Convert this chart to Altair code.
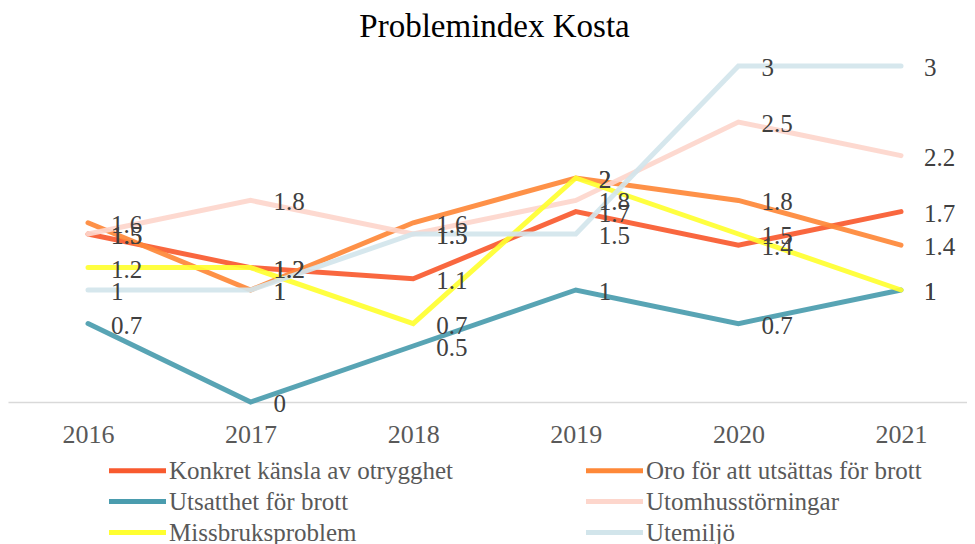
import altair as alt
import pandas as pd

years = ["2016", "2017", "2018", "2019", "2020", "2021"]
series = [
    "Konkret känsla av otrygghet",
    "Oro för att utsättas för brott",
    "Utsatthet för brott",
    "Utomhusstörningar",
    "Missbruksproblem",
    "Utemiljö",
]
konkret = [1.5, 1.2, 1.1, 1.7, 1.4, 1.7]
oro = [1.6, 1.0, 1.6, 2.0, 1.8, 1.4]
utsatthet = [0.7, 0.0, 0.5, 1.0, 0.7, 1.0]
utomhus = [1.5, 1.8, 1.5, 1.8, 2.5, 2.2]
missbruk = [1.2, 1.2, 0.7, 2.0, 1.5, 1.0]
utemiljo = [1.0, 1.0, 1.5, 1.5, 3.0, 3.0]
colors = ["#F85A2F", "#FE8838", "#4A9CAE", "#FDD6CC", "#FFFF30", "#D2E5EB"]

rows = []
for i, (name, vals) in enumerate(zip(series, [konkret, oro, utsatthet, utomhus, missbruk, utemiljo])):
    for y, v in zip(years, vals):
        rows.append({"year": y, "series": name, "value": v, "order": i})
df = pd.DataFrame(rows)

FONT = "Liberation Serif"

x = alt.X("year:N", title=None,
          scale=alt.Scale(type="point", padding=0.449, align=0.548),
          axis=alt.Axis(labelAngle=0, ticks=False, domainColor="#D9D9D9", domainWidth=1.5,
                        labelFont=FONT, labelFontSize=26, labelColor="#595959", labelPadding=19))
y = alt.Y("value:Q", title=None, scale=alt.Scale(domain=[0, 3], nice=False, zero=True), axis=None)

lines = alt.Chart(df).mark_line(strokeWidth=5, strokeCap="round", strokeJoin="miter", opacity=0.92).encode(
    x=x, y=y,
    color=alt.Color("series:N", scale=alt.Scale(domain=series, range=colors), sort=series,
                    legend=alt.Legend(orient="none", legendX=117, legendY=392, columns=2,
                                      direction="horizontal",
                                      columnPadding=123, rowPadding=5, title=None,
                                      symbolType="M-3,0H3", symbolSize=361, symbolStrokeWidth=5,
                                      symbolOpacity=1, labelFont=FONT, labelFontSize=25,
                                      labelColor="#595959", labelOffset=19, labelLimit=400)),
    order="order:Q",
)

labels = alt.Chart(df).mark_text(align="left", baseline="middle", dx=23, dy=2,
                                 font=FONT, fontSize=25, color="#404040").encode(
    x=x, y=y, text=alt.Text("value:Q", format=".1~f"),
)

chart = alt.layer(lines, labels).properties(
    width=959, height=336,
    title=alt.TitleParams("Problemindex Kosta", font=FONT, fontSize=33, fontWeight="normal",
                          color="#000000", anchor="middle", offset=12, dx=7),
    autosize=alt.AutoSizeParams(type="none"),
    padding={"left": 0, "top": 58, "right": 0, "bottom": 142},
).configure_view(stroke=None)

chart.save("out.html", embed_options={"renderer": "svg", "actions": False})
